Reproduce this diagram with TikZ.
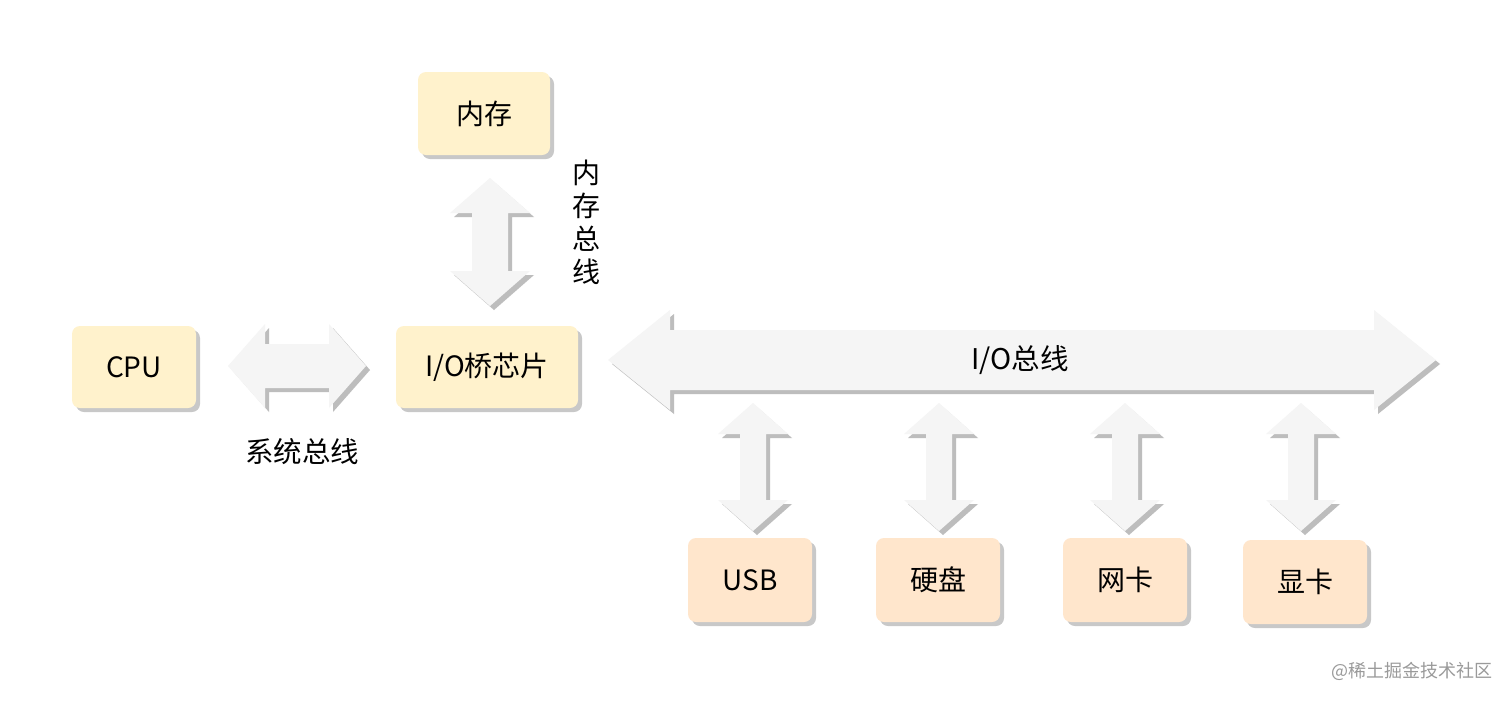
\documentclass[tikz,border=0pt]{standalone}
\usepackage{fontspec}
\setmainfont{Noto Sans CJK SC}
\usetikzlibrary{shadows}
\definecolor{boxY}{HTML}{FFF2CC}
\definecolor{boxO}{HTML}{FFE6CC}
\definecolor{arrF}{HTML}{F5F5F5}
\definecolor{arrS}{HTML}{BDBDBD}
\definecolor{boxS}{HTML}{C8C8C8}
\definecolor{wm}{HTML}{9A9A9A}
% horizontal double arrow: #1 left tip x, #2 right tip x, #3 center y, #4 head half, #5 shaft half, #6 head length
\newcommand\hdarrowpath[6]{(#1,#3) -- ({#1+#6},{#3-#4}) -- ({#1+#6},{#3-#5}) -- ({#2-#6},{#3-#5}) -- ({#2-#6},{#3-#4}) -- (#2,#3) -- ({#2-#6},{#3+#4}) -- ({#2-#6},{#3+#5}) -- ({#1+#6},{#3+#5}) -- ({#1+#6},{#3+#4}) -- cycle}
\newcommand\vdarrowpath[6]{(#3,#1) -- ({#3-#4},{#1+#6}) -- ({#3-#5},{#1+#6}) -- ({#3-#5},{#2-#6}) -- ({#3-#4},{#2-#6}) -- (#3,#2) -- ({#3+#4},{#2-#6}) -- ({#3+#5},{#2-#6}) -- ({#3+#5},{#1+#6}) -- ({#3+#4},{#1+#6}) -- cycle}
\newcommand\hdarrow[6]{%
  \fill[arrS, shift={(4,4)}] \hdarrowpath{#1}{#2}{#3}{#4}{#5}{#6};
  \fill[arrF] \hdarrowpath{#1}{#2}{#3}{#4}{#5}{#6};}
\newcommand\vdarrow[6]{%
  \fill[arrS, shift={(4,4)}] \vdarrowpath{#1}{#2}{#3}{#4}{#5}{#6};
  \fill[arrF] \vdarrowpath{#1}{#2}{#3}{#4}{#5}{#6};}
\tikzset{
  unitbox/.style={rounded corners=8pt, inner sep=0pt, font=\fontsize{28}{32}\selectfont,
    drop shadow={shadow xshift=4pt, shadow yshift=-4pt, fill=boxS, opacity=1}},
  ybox/.style={unitbox, fill=boxY},
  obox/.style={unitbox, fill=boxO},
  lbl/.style={font=\fontsize{28.5}{33}\selectfont, inner sep=0pt}
}
\begin{document}
\begin{tikzpicture}[x=1pt, y=-1pt]
\useasboundingbox (0,0) rectangle (1512,702);
\fill[white] (0,0) rectangle (1512,702);

% boxes
\node[ybox, minimum width=132pt, minimum height=83pt] (mem) at (484,113.5) {内存};
\node[ybox, minimum width=124pt, minimum height=82pt] (cpu) at (134,367) {CPU};
\node[ybox, minimum width=182pt, minimum height=82pt] (bridge) at (487,367) {I/O桥芯片};
\node[obox, minimum width=124pt, minimum height=84pt] (usb) at (750,580) {USB};
\node[obox, minimum width=124pt, minimum height=84pt] (disk) at (938,580) {硬盘};
\node[obox, minimum width=124pt, minimum height=84pt] (nic) at (1125,580) {网卡};
\node[obox, minimum width=124pt, minimum height=84pt] (gpu) at (1305,582) {显卡};

% block arrows
\hdarrow{228}{366}{366}{42}{22}{37}
\vdarrow{178}{306}{490}{40}{18}{35}
\hdarrow{608}{1436}{360}{50}{30}{62}
\vdarrow{403}{531}{753}{35}{13}{31}
\vdarrow{403}{531}{939}{35}{13}{31}
\vdarrow{403}{531}{1125}{35}{13}{31}
\vdarrow{403}{531}{1301}{35}{13}{31}

% labels
\node[lbl] (sysbus) at (302,452) {系统总线};
\node[lbl, align=center, font=\fontsize{28}{33}\selectfont] (membus) at (586,222) {内\\存\\总\\线};
\node[lbl] (iobus) at (1020,360) {I/O总线};
\node[inner sep=0pt, text=wm, font=\fontsize{18}{20}\selectfont] (wmark) at (1412,671) {@稀土掘金技术社区};
\end{tikzpicture}
\end{document}
